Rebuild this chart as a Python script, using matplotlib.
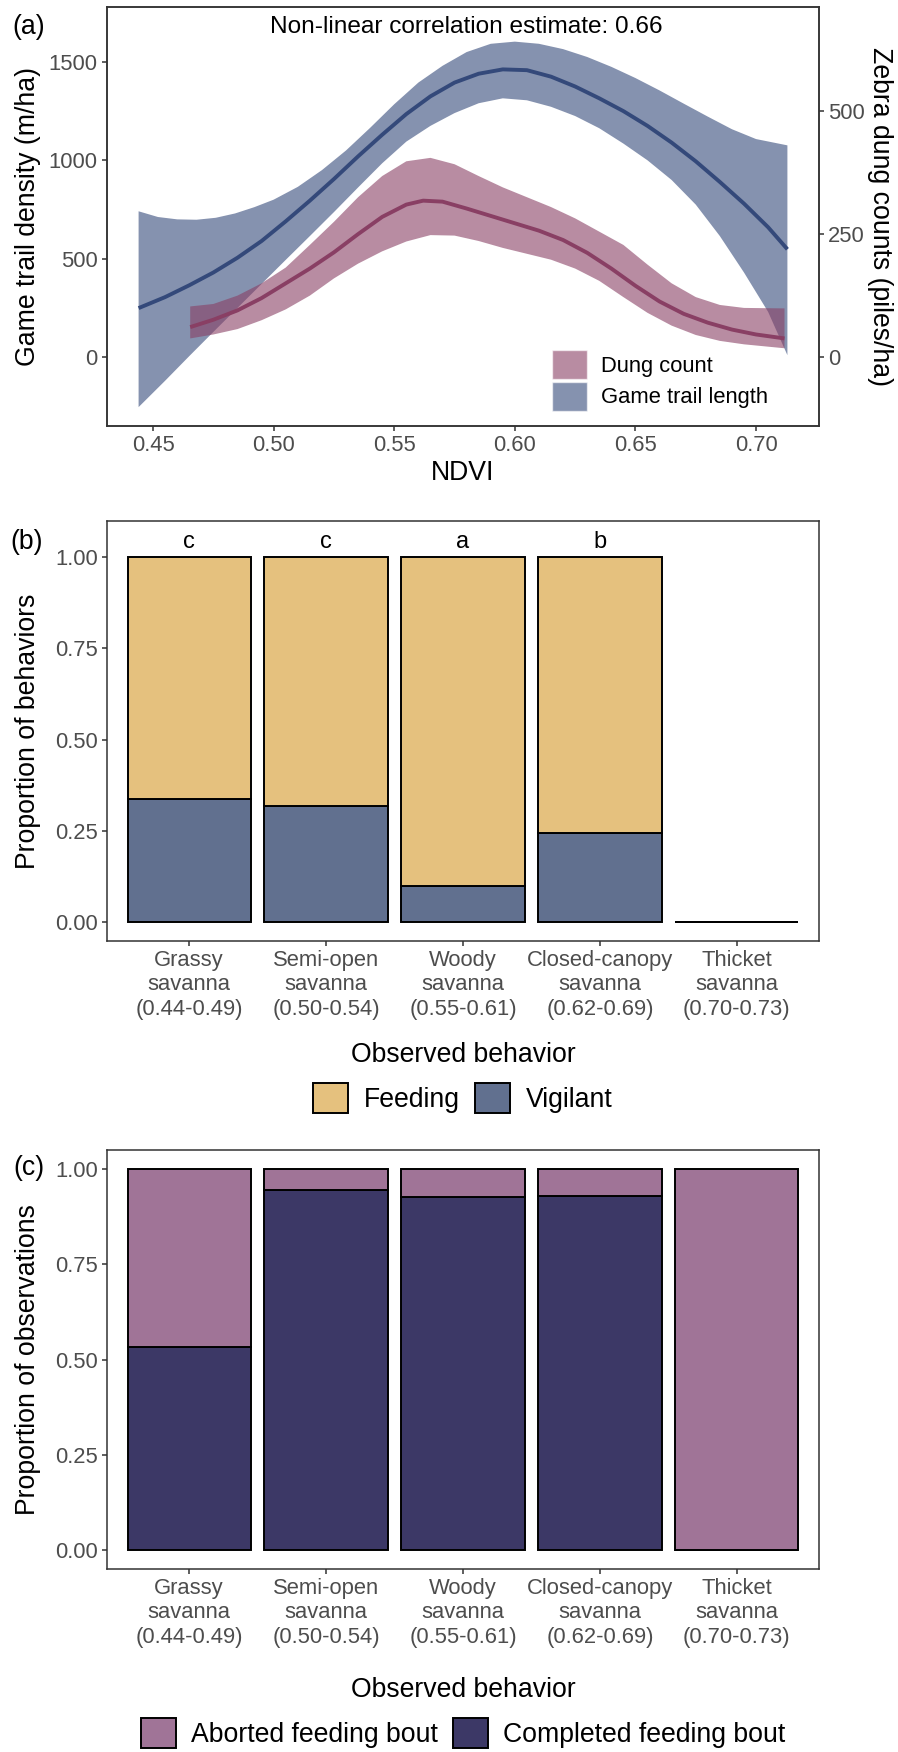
import matplotlib
matplotlib.use('Agg')
import matplotlib.pyplot as plt
from matplotlib.patches import Patch
import numpy as np

plt.rcParams['font.family'] = ['Liberation Sans', 'DejaVu Sans']

# ---------------- Panel (a) data ----------------
trail_x = [0.444, 0.455, 0.465, 0.475, 0.485, 0.495, 0.505, 0.515, 0.525, 0.535, 0.545,
           0.555, 0.565, 0.575, 0.585, 0.595, 0.605, 0.615, 0.625, 0.635, 0.645, 0.655,
           0.665, 0.675, 0.685, 0.695, 0.705, 0.713]
trail_y = [249, 305, 365, 430, 505, 590, 690, 795, 905, 1020, 1130,
           1235, 1325, 1395, 1440, 1462, 1458, 1425, 1375, 1315, 1250, 1175,
           1090, 995, 890, 780, 660, 548]
trail_up_x = [0.444, 0.452, 0.460, 0.468, 0.476, 0.484, 0.492, 0.500, 0.510, 0.520, 0.530,
              0.540, 0.550, 0.560, 0.570, 0.580, 0.590, 0.600, 0.610, 0.620, 0.630, 0.640,
              0.650, 0.660, 0.670, 0.680, 0.690, 0.700, 0.713]
trail_up_y = [741, 712, 700, 698, 708, 730, 762, 800, 865, 950, 1050,
              1165, 1285, 1395, 1480, 1550, 1592, 1603, 1592, 1565, 1525, 1475,
              1418, 1355, 1288, 1222, 1158, 1108, 1076]
trail_lo_x = [0.444, 0.455, 0.465, 0.475, 0.485, 0.495, 0.505, 0.515, 0.525, 0.535, 0.545,
              0.555, 0.565, 0.575, 0.585, 0.595, 0.605, 0.615, 0.625, 0.635, 0.645, 0.655,
              0.665, 0.675, 0.685, 0.695, 0.705, 0.713]
trail_lo_y = [-254, -120, 5, 128, 250, 372, 494, 615, 737, 862, 985,
              1095, 1175, 1240, 1290, 1315, 1305, 1272, 1225, 1163, 1085, 1000,
              900, 775, 615, 430, 230, 10]

dung_x = [0.4654, 0.475, 0.485, 0.495, 0.505, 0.515, 0.525, 0.535, 0.545, 0.555, 0.562,
          0.570, 0.580, 0.590, 0.600, 0.610, 0.620, 0.630, 0.640, 0.650, 0.660, 0.670,
          0.680, 0.690, 0.700, 0.7118]
dung_y = [61, 76, 95, 120, 150, 180, 213, 250, 285, 310, 318,
          316, 302, 287, 272, 257, 238, 212, 180, 145, 113, 88,
          70, 56, 46, 38]
dung_up_x = [0.4654, 0.475, 0.485, 0.495, 0.505, 0.515, 0.525, 0.535, 0.545, 0.555, 0.565,
             0.575, 0.585, 0.595, 0.605, 0.615, 0.625, 0.635, 0.645, 0.655, 0.665, 0.675,
             0.685, 0.695, 0.7118]
dung_up_y = [103, 108, 125, 150, 182, 228, 275, 325, 368, 398, 405,
             392, 368, 345, 325, 305, 282, 255, 228, 188, 150, 122,
             106, 100, 99]
dung_lo_x = [0.4654, 0.475, 0.485, 0.495, 0.505, 0.515, 0.525, 0.535, 0.545, 0.555, 0.565,
             0.575, 0.585, 0.595, 0.605, 0.615, 0.625, 0.635, 0.645, 0.655, 0.665, 0.675,
             0.685, 0.695, 0.7118]
dung_lo_y = [38, 46, 57, 75, 97, 125, 160, 190, 215, 235, 248,
             247, 236, 222, 210, 198, 180, 155, 122, 90, 64, 45,
             33, 26, 18]

dung_scale = 2.5
annotation = "Non-linear correlation estimate: 0.66"

# ---------------- Panel (b) / (c) data ----------------
categories = ["Grassy\nsavanna\n(0.44-0.49)", "Semi-open\nsavanna\n(0.50-0.54)",
              "Woody\nsavanna\n(0.55-0.61)", "Closed-canopy\nsavanna\n(0.62-0.69)",
              "Thicket\nsavanna\n(0.70-0.73)"]
vigilant = [0.337, 0.318, 0.099, 0.244, 0.0]
feeding = [0.663, 0.682, 0.901, 0.756, 0.0]
sig_letters = ["c", "c", "a", "b", ""]

completed = [0.533, 0.944, 0.927, 0.929, 0.0]
aborted = [0.467, 0.056, 0.073, 0.071, 1.0]

# ---------------- styling ----------------
W, H = 898, 1752
TICK_FS = 15.8
TITLE_FS = 19.2
FRAME = '#333333'
TICKLAB = '#4D4D4D'

c_trail = '#34497A'
c_dung = '#893F64'
c_feed = '#E5C17E'
c_vig = '#61708F'
c_abort = '#A07497'
c_comp = '#3C3866'

fig = plt.figure(figsize=(W / 100, H / 100), dpi=100)


def rect(left, top, right, bottom):
    return [left / W, 1 - bottom / H, (right - left) / W, (bottom - top) / H]


def style(ax):
    for s in ax.spines.values():
        s.set_color(FRAME)
        s.set_linewidth(1.1)
    ax.tick_params(colors=FRAME, length=3.6, width=1.1, labelsize=TICK_FS,
                   labelcolor=TICKLAB, pad=3)


# ---- Panel (a)
ax_a = fig.add_axes(rect(107, 7, 819, 426))
style(ax_a)
ax_a.fill(np.r_[trail_up_x, trail_lo_x[::-1]], np.r_[trail_up_y, trail_lo_y[::-1]],
          color=c_trail, alpha=0.6, lw=0)
ax_a.plot(trail_x, trail_y, color=c_trail, lw=2.8, solid_capstyle='butt',
          solid_joinstyle='round')
ax_a.set_xlim(0.4309, 0.7261)
ax_a.set_ylim(-350, 1779)
ax_a.set_xticks([0.45, 0.50, 0.55, 0.60, 0.65, 0.70])
ax_a.set_xticklabels(["0.45", "0.50", "0.55", "0.60", "0.65", "0.70"])
ax_a.set_yticks([0, 500, 1000, 1500])
ax_a.set_ylabel("Game trail density (m/ha)", fontsize=TITLE_FS)
ax_a.yaxis.label.set_va('center')
ax_a.yaxis.set_label_coords((28 - 107) / 712, 0.5)
ax_a.set_xlabel("NDVI", fontsize=TITLE_FS)
ax_a.xaxis.label.set_va('center')
ax_a.xaxis.set_label_coords(0.5, (426 - 473) / 419)

ax2 = ax_a.twinx()
style(ax2)
ax2.fill(np.r_[dung_up_x, dung_lo_x[::-1]], np.r_[dung_up_y, dung_lo_y[::-1]],
         color=c_dung, alpha=0.6, lw=0)
ax2.plot(dung_x, dung_y, color=c_dung, lw=2.8, solid_capstyle='butt',
         solid_joinstyle='round')
ax2.set_ylim(-350 / dung_scale, 1779 / dung_scale)
ax2.set_yticks([0, 250, 500])
ax2.set_ylabel("Zebra dung counts (piles/ha)", fontsize=TITLE_FS, rotation=270)
ax2.yaxis.label.set_va('center')
ax2.yaxis.set_label_coords((880 - 107) / 712, 0.5)
ax2.text(0.504, 0.952, annotation, transform=ax2.transAxes, ha='center', va='center',
         fontsize=17.6)

ax2.legend(handles=[Patch(facecolor=c_dung, alpha=0.6, edgecolor='white', lw=1),
                    Patch(facecolor=c_trail, alpha=0.6, edgecolor='white', lw=1)],
           labels=["Dung count", "Game trail length"],
           loc='upper left', bbox_to_anchor=((552 - 107) / 712, 1 - (350 - 7) / 419),
           frameon=False, fontsize=TICK_FS, handlelength=1.6, handleheight=1.64,
           labelspacing=0.14, handletextpad=0.64, borderpad=0, borderaxespad=0)

fig.text(12 / W, 1 - 27 / H, "(a)", fontsize=TITLE_FS, ha='left', va='center')

# ---- Panel (b)
xpos = np.arange(1, len(categories) + 1)
ax_b = fig.add_axes(rect(107, 521, 819, 941))
style(ax_b)
ax_b.bar(xpos, vigilant, width=0.9, color=c_vig, edgecolor='black', lw=1.4)
ax_b.bar(xpos, feeding, width=0.9, bottom=vigilant, color=c_feed, edgecolor='black', lw=1.4)
for xp, lab in zip(xpos, sig_letters):
    ax_b.text(xp, 1.041, lab, ha='center', va='center', fontsize=17)
ax_b.set_xlim(0.4, 5.6)
ax_b.set_ylim(-0.052, 1.099)
ax_b.set_yticks([0, 0.25, 0.5, 0.75, 1.0])
ax_b.set_yticklabels(["0.00", "0.25", "0.50", "0.75", "1.00"])
ax_b.set_xticks(xpos)
ax_b.set_xticklabels(categories)
ax_b.set_ylabel("Proportion of behaviors", fontsize=TITLE_FS)
ax_b.yaxis.label.set_va('center')
ax_b.yaxis.set_label_coords((28 - 107) / 712, 0.5)
ax_b.set_xlabel("Observed behavior", fontsize=TITLE_FS)
ax_b.xaxis.label.set_va('center')
ax_b.xaxis.set_label_coords(0.5, (941 - 1055) / 420)
fig.text(10 / W, 1 - 542 / H, "(b)", fontsize=TITLE_FS, ha='left', va='center')
fig.legend(handles=[Patch(facecolor=c_feed, edgecolor='black', lw=1.4),
                    Patch(facecolor=c_vig, edgecolor='black', lw=1.4)],
           labels=["Feeding", "Vigilant"], loc='center',
           bbox_to_anchor=(463 / W, 1 - 1098 / H), ncol=2, frameon=False,
           fontsize=TITLE_FS, handlelength=1.32, handleheight=1.32,
           handletextpad=0.6, columnspacing=0.55, borderpad=0, borderaxespad=0)

# ---- Panel (c)
ax_c = fig.add_axes(rect(107, 1150, 819, 1569))
style(ax_c)
ax_c.bar(xpos, completed, width=0.9, color=c_comp, edgecolor='black', lw=1.4)
ax_c.bar(xpos, aborted, width=0.9, bottom=completed, color=c_abort, edgecolor='black', lw=1.4)
ax_c.set_xlim(0.4, 5.6)
ax_c.set_ylim(-0.05, 1.05)
ax_c.set_yticks([0, 0.25, 0.5, 0.75, 1.0])
ax_c.set_yticklabels(["0.00", "0.25", "0.50", "0.75", "1.00"])
ax_c.set_xticks(xpos)
ax_c.set_xticklabels(categories)
ax_c.set_ylabel("Proportion of observations", fontsize=TITLE_FS)
ax_c.yaxis.label.set_va('center')
ax_c.yaxis.set_label_coords((28 - 107) / 712, 0.5)
ax_c.set_xlabel("Observed behavior", fontsize=TITLE_FS)
ax_c.xaxis.label.set_va('center')
ax_c.xaxis.set_label_coords(0.5, (1569 - 1690) / 419)
fig.text(13 / W, 1 - 1168 / H, "(c)", fontsize=TITLE_FS, ha='left', va='center')
fig.legend(handles=[Patch(facecolor=c_abort, edgecolor='black', lw=1.4),
                    Patch(facecolor=c_comp, edgecolor='black', lw=1.4)],
           labels=["Aborted feeding bout", "Completed feeding bout"], loc='center',
           bbox_to_anchor=(463 / W, 1 - 1733 / H), ncol=2, frameon=False,
           fontsize=TITLE_FS, handlelength=1.32, handleheight=1.32,
           handletextpad=0.55, columnspacing=0.55, borderpad=0, borderaxespad=0)

fig.savefig('out.png', dpi=100)
